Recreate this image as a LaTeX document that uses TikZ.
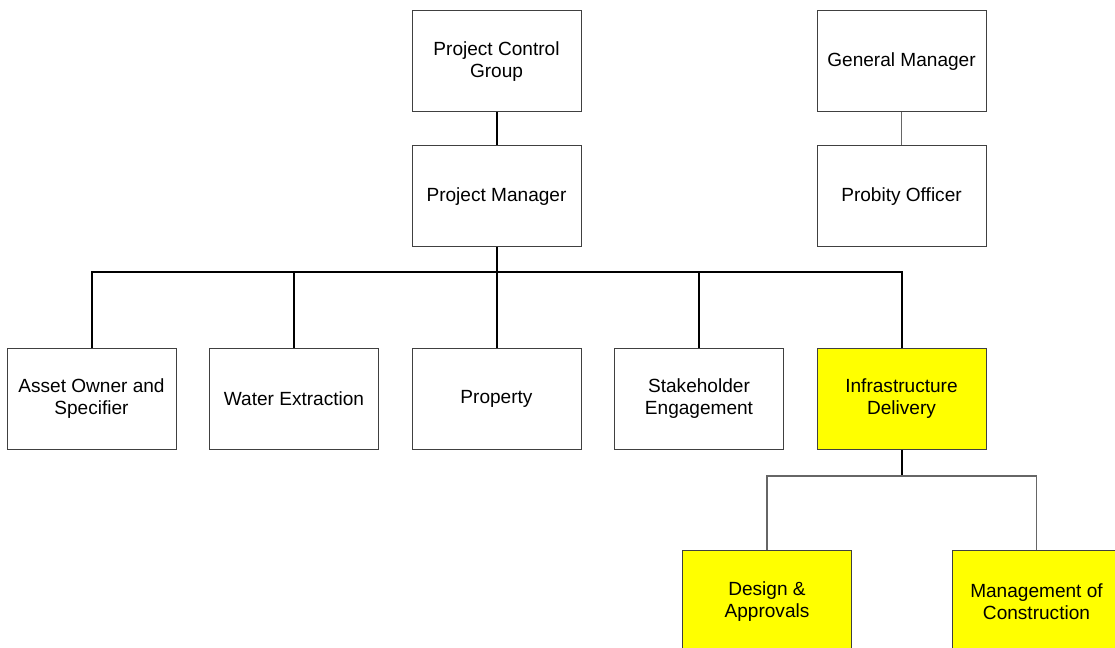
\documentclass[tikz,border=0pt]{standalone}
\usepackage{fontspec}
\setmainfont{Liberation Sans}
\usetikzlibrary{positioning}

\definecolor{hilite}{RGB}{255,255,0}

\tikzset{
    unit/.style={draw=black!75, line width=0.75pt, fill=white, minimum width=126.75pt, minimum height=75.75pt,
        align=center, inner sep=2pt, font=\fontsize{14.3}{16.5}\selectfont},
    unitHL/.style={unit, fill=hilite},
    link/.style={line width=1.5pt, black},
    sublink/.style={line width=1.1pt, black!60}
}

\begin{document}
\begin{tikzpicture}[x=0.75pt, y=-0.75pt, node distance=151.875pt, on grid]
    \clip (0,0) rectangle (1115,648);
    \useasboundingbox (0,0) rectangle (1115,648);

    % Nodes
    \node[unit] (pcg) at (496.5,61.5) {Project Control\\Group};
    \node[unit] (pm) [below=101.25pt of pcg] {Project Manager};
    \node[unit] (gm) at (901.5,61.5) {General Manager};
    \node[unit] (po) [below=101.25pt of gm] {Probity Officer};

    \node[unit] (prop) [below=of pm] {Property};
    \node[unit] (water) [left=of prop] {Water Extraction};
    \node[unit] (asset) [left=of water] {Asset Owner and\\Specifier};
    \node[unit] (stake) [right=of prop] {Stakeholder\\Engagement};
    \node[unitHL] (infra) [right=of stake] {Infrastructure\\Delivery};

    \node[unitHL] (design) at (767,601.5) {Design \&\\Approvals};
    \node[unitHL] (constr) at (1036.5,601.5) {Management of\\Construction};

    % Connections
    \draw[link] (pcg) -- (pm);
    \draw[sublink] (gm) -- (po);
    \draw[link] (pm.south) -- ++(0,25) coordinate (bus);
    \draw[link] (asset.north) |- (bus) -| (infra.north);
    \foreach \n in {water,prop,stake}
        \draw[link] (\n.north) -- (\n.north |- bus);
    \draw[link] (infra.south) -- ++(0,26) coordinate (split);
    \draw[sublink] (design.north) |- (split) -| (constr.north);
\end{tikzpicture}
\end{document}
